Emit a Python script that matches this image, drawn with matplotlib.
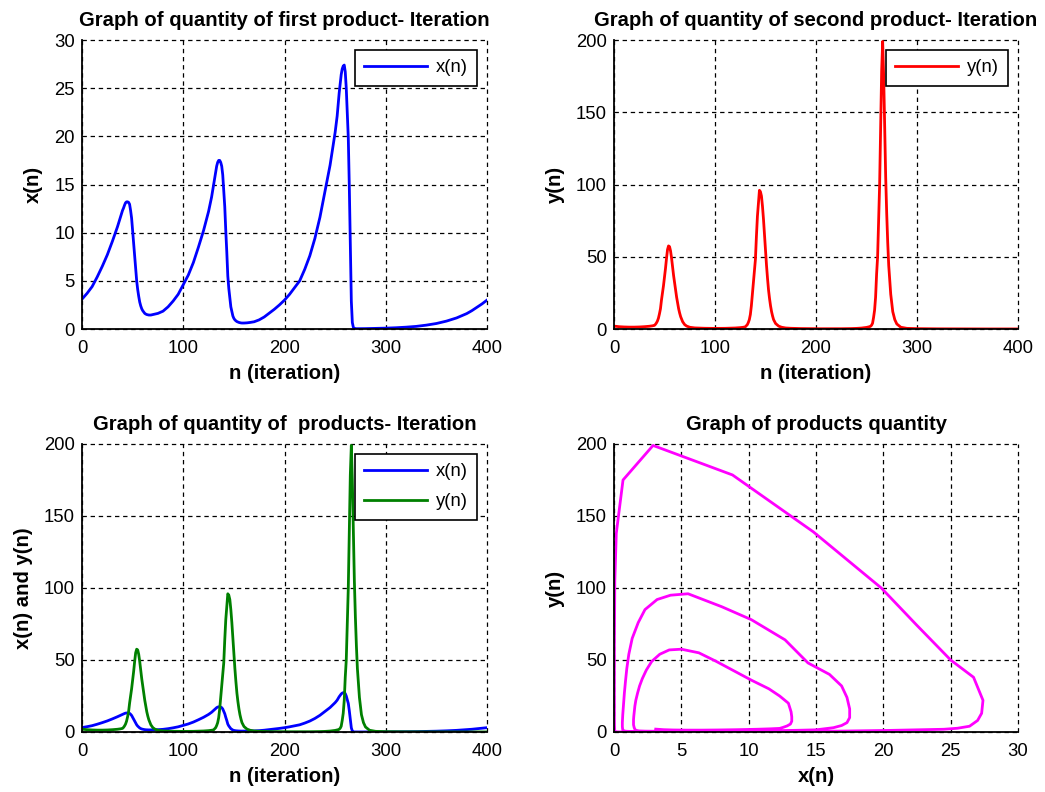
import matplotlib
matplotlib.use("Agg")
import matplotlib.pyplot as plt

# ---- data (iteration n, x(n), y(n)) ----
n_vals = [0, 5, 10, 15, 20, 25, 30, 35, 38, 40, 41, 42, 43, 44, 45, 46, 47, 48, 49, 50,
          51, 52, 53, 54, 55, 56, 57, 58, 59, 60, 61, 62, 63, 64, 65, 66, 68, 70, 72, 75,
          80, 85, 90, 95, 100, 105, 110, 115, 120, 125, 128, 130, 132, 133, 134, 135, 136, 137, 138, 139,
          140, 141, 142, 143, 144, 145, 146, 147, 148, 149, 150, 151, 152, 153, 154, 155, 156, 157, 158, 160,
          163, 166, 170, 175, 180, 185, 190, 195, 200, 205, 210, 215, 220, 225, 230, 235, 240, 245, 248, 250,
          252, 253, 254, 255, 256, 257, 258, 259, 260, 261, 262, 263, 264, 265, 266, 267, 268, 269, 270, 271,
          272, 274, 276, 278, 280, 284, 290, 300, 310, 320, 330, 340, 350, 360, 370, 380, 385, 390, 395, 400]

x_vals = [3.1, 3.7, 4.4, 5.4, 6.5, 7.7, 9.1, 10.6, 11.6, 12.3, 12.55, 12.85, 13.1, 13.2, 13.2, 13.15, 12.95, 12.3, 11.5, 10.2,
          9.0, 7.6, 6.3, 5.0, 4.1, 3.4, 2.8, 2.4, 2.1, 1.9, 1.75, 1.62, 1.55, 1.5, 1.47, 1.45, 1.45, 1.5, 1.55, 1.62,
          1.85, 2.3, 2.9, 3.6, 4.6, 5.6, 6.9, 8.5, 10.2, 12.2, 13.7, 15.0, 16.3, 16.9, 17.3, 17.5, 17.5, 17.3, 16.9, 16.0,
          14.4, 12.7, 10.2, 8.0, 5.5, 4.2, 3.2, 2.3, 1.8, 1.35, 1.1, 0.95, 0.85, 0.77, 0.72, 0.68, 0.65, 0.63, 0.62, 0.62,
          0.64, 0.68, 0.75, 0.95, 1.25, 1.65, 2.05, 2.5, 3.0, 3.6, 4.3, 5.0, 6.2, 7.6, 9.4, 11.6, 14.3, 17.0, 19.0, 20.4,
          22.1, 23.3, 24.5, 25.5, 26.4, 27.0, 27.3, 27.4, 26.7, 25.0, 22.5, 19.85, 14.8, 8.8, 2.9, 0.67, 0.17, 0.06, 0.04, 0.03,
          0.03, 0.03, 0.03, 0.03, 0.04, 0.05, 0.06, 0.09, 0.13, 0.19, 0.27, 0.4, 0.57, 0.82, 1.15, 1.6, 1.9, 2.25, 2.6, 3.0]

y_vals = [2.0, 1.6, 1.4, 1.3, 1.3, 1.4, 1.6, 1.9, 2.2, 2.5, 3.2, 4.2, 5.5, 7.5, 10.5, 14, 20, 25, 30, 36,
          42, 49, 55, 57.5, 57, 54, 49, 43, 37, 32, 27, 22, 18, 14, 11, 8.5, 5, 3, 2, 1.2,
          0.75, 0.6, 0.5, 0.45, 0.42, 0.43, 0.47, 0.55, 0.7, 0.95, 1.2, 1.5, 3.0, 4.5, 6.5, 10, 16, 24, 32, 40,
          48, 64, 78, 87, 96, 95, 92, 85, 76, 65, 54, 44, 35, 27, 21, 16, 12, 9, 6.5, 3.8,
          2.0, 1.2, 0.7, 0.5, 0.38, 0.3, 0.25, 0.21, 0.19, 0.17, 0.16, 0.16, 0.17, 0.19, 0.23, 0.3, 0.42, 0.65, 0.9, 1.1,
          1.4, 1.6, 1.9, 2.6, 4.0, 8.0, 13, 22, 38, 50, 74, 100, 139, 178.5, 199, 175, 138, 105, 80, 60,
          44, 24, 12, 6.5, 3.5, 1.2, 0.45, 0.25, 0.17, 0.12, 0.09, 0.07, 0.06, 0.05, 0.04, 0.04, 0.04, 0.04, 0.04, 0.04]

n_ticks = [0, 100, 200, 300, 400]
x_ticks = [0, 5, 10, 15, 20, 25, 30]
y_ticks = [0, 50, 100, 150, 200]

titles = ["Graph of quantity of first product- Iteration",
          "Graph of quantity of second product- Iteration",
          "Graph of quantity of  products- Iteration",
          "Graph of products quantity"]

plt.rcParams['font.family'] = ['Liberation Sans', 'DejaVu Sans']

W, H = 1045, 792
fig = plt.figure(figsize=(W / 100, H / 100), dpi=100)

def px_axes(l, t, r, b):
    return fig.add_axes([l / W, 1 - b / H, (r - l) / W, (b - t) / H])

ax1 = px_axes(82, 40, 487, 329)
ax2 = px_axes(614, 40, 1018, 329)
ax3 = px_axes(82, 444, 487, 732)
ax4 = px_axes(614, 444, 1018, 732)

TICK_FS = 13.3
LAB_FS = 14.6
LW = 2.0

def style(ax, title, xlabel, ylabel, xticks, yticks):
    ax.set_title(title, fontsize=LAB_FS, fontweight='bold', pad=10)
    ax.set_xlabel(xlabel, fontsize=LAB_FS, fontweight='bold', labelpad=5)
    ax.set_ylabel(ylabel, fontsize=LAB_FS, fontweight='bold', labelpad=8)
    ax.set_xticks(xticks)
    ax.set_yticks(yticks)
    ax.set_xlim(xticks[0], xticks[-1])
    ax.set_ylim(yticks[0], yticks[-1])
    ax.tick_params(labelsize=TICK_FS, direction='in', length=0, colors='black')
    ax.tick_params(axis='x', pad=8)
    ax.tick_params(axis='y', pad=5)
    ax.grid(True, color='black', linestyle=(0, (3.5, 3)), linewidth=0.9)
    ax.set_axisbelow(True)
    for gl in ax.get_xgridlines() + ax.get_ygridlines():
        gl.set_clip_on(False)
    for s in ['top', 'right']:
        ax.spines[s].set_visible(False)
    for s in ['left', 'bottom']:
        ax.spines[s].set_linewidth(1.3)
        ax.spines[s].set_color('black')

def legend(ax):
    lg = ax.legend(loc='upper right', fontsize=TICK_FS, fancybox=False, framealpha=1,
                   edgecolor='black', borderpad=0.5, handlelength=3.4, handletextpad=0.45,
                   labelspacing=0.7, borderaxespad=0.55)
    lg.get_frame().set_linewidth(1.2)

ax1.plot(n_vals, x_vals, color='#0000ff', lw=LW, label='x(n)')
style(ax1, titles[0], 'n (iteration)', 'x(n)', n_ticks, x_ticks)
legend(ax1)

ax2.plot(n_vals, y_vals, color='#ff0000', lw=LW, label='y(n)')
style(ax2, titles[1], 'n (iteration)', 'y(n)', n_ticks, y_ticks)
legend(ax2)

ax3.plot(n_vals, x_vals, color='#0000ff', lw=LW, label='x(n)')
ax3.plot(n_vals, y_vals, color='#008000', lw=LW, label='y(n)')
style(ax3, titles[2], 'n (iteration)', 'x(n) and y(n)', n_ticks, y_ticks)
legend(ax3)

ax4.plot(x_vals, y_vals, color='#ff00ff', lw=LW)
style(ax4, titles[3], 'x(n)', 'y(n)', x_ticks, y_ticks)

fig.savefig('out.png', dpi=100)
